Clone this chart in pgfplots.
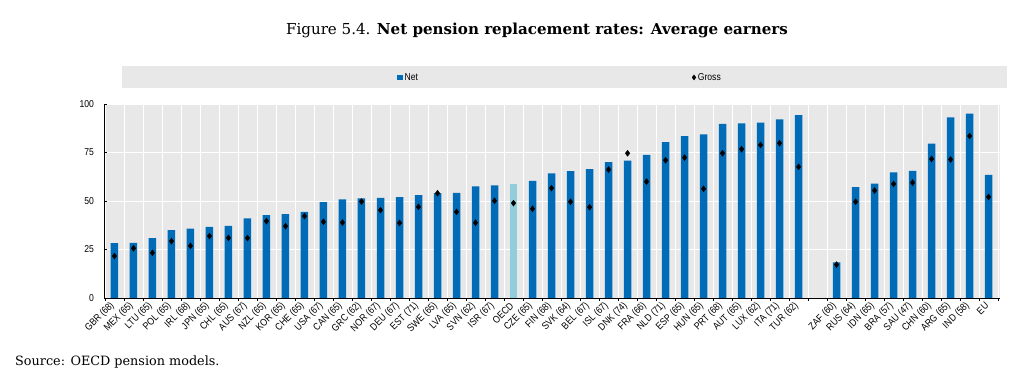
\documentclass[border=0pt]{standalone}
\usepackage{pgfplots}
\pgfplotsset{compat=1.18}
\usepackage{pgfplotstable}
\usepackage{fontspec}
\setmainfont{Liberation Sans}
\newfontfamily\narrowfont[FakeStretch=0.86]{Liberation Sans}
\newfontfamily\titlefont{DejaVu Serif}
\definecolor{oecdblue}{HTML}{006BB6}
\definecolor{oecdlight}{HTML}{92CDDC}
\definecolor{bggray}{HTML}{E8E8E8}

\pgfplotstableread{
x net
0 28.3
1 28.4
2 30.9
3 35.0
4 35.8
5 36.7
6 37.2
7 41.0
8 42.7
9 43.2
10 44.4
11 49.4
12 50.8
13 51.3
14 51.6
15 52.0
16 53.0
17 54.0
18 54.2
19 57.5
20 58.0
22 60.4
23 64.3
24 65.4
25 66.4
26 70.0
27 70.8
28 73.8
29 80.3
30 83.5
31 84.4
32 89.7
33 90.0
34 90.4
35 92.1
36 94.2
38 18.4
39 57.1
40 59.0
41 64.8
42 65.5
43 79.6
44 93.1
45 95.0
46 63.5
}\nettable

\pgfplotstableread{
x net
21 58.7
}\oecdtable

\pgfplotstableread{
x gross
0 21.6
1 25.6
2 23.3
3 29.3
4 26.9
5 31.9
6 31.0
7 30.9
8 39.6
9 37.0
10 42.2
11 39.3
12 38.9
13 49.7
14 45.3
15 38.7
16 47.0
17 54.0
18 44.4
19 38.8
20 50.1
21 48.9
22 46.0
23 56.6
24 49.6
25 46.8
26 66.2
27 74.6
28 60.0
29 71.0
30 72.4
31 56.3
32 74.6
33 76.7
34 78.9
35 79.8
36 67.6
38 17.2
39 49.6
40 55.4
41 58.8
42 59.5
43 71.7
44 71.4
45 83.5
46 52.1
}\grosstable

\begin{document}
\begin{tikzpicture}
\path[use as bounding box] (0pt,0pt) rectangle (1024pt,374pt);
\fill[bggray] (122pt,286pt) rectangle (1007pt,308pt);
\node[font=\titlefont\fontsize{15.1}{18}\selectfont] at (537pt,344pt) {Figure 5.4. \textbf{Net pension replacement rates: Average earners}};
\node[anchor=west, font=\titlefont\fontsize{12.8}{15}\selectfont, inner sep=0pt] at (15pt,12pt) {Source: OECD pension models.};
\begin{axis}[
  at={(104pt,76pt)}, anchor=south west,
  scale only axis, width=896pt, height=194pt,
  xmin=-0.55, xmax=46.6, ymin=0, ymax=100,
  axis background/.style={fill=bggray},
  axis x line*=bottom, axis y line*=left,
  axis line style={-, black, line width=0.8pt},
  ytick={0,25,50,75,100},
  ytick align=inside,
  xtick align=outside,
  ymajorgrids, grid style={white, line width=0.9pt},
  xtick={0,...,36,38,39,...,46},
  xticklabels={GBR (68),MEX (65),LTU (65),POL (65),IRL (68),JPN (65),CHL (65),AUS (67),NZL (65),KOR (65),CHE (65),USA (67),CAN (65),GRC (62),NOR (67),DEU (67),EST (71),SWE (65),LVA (65),SVN (62),ISR (67),OECD,CZE (65),FIN (68),SVK (64),BEL (67),ISL (67),DNK (74),FRA (66),NLD (71),ESP (65),HUN (65),PRT (68),AUT (65),LUX (62),ITA (71),TUR (62),ZAF (60),RUS (64),IDN (65),BRA (57),SAU (47),CHN (60),ARG (65),IND (58),EU},
  minor xtick={-0.5,0.5,...,46.5},
  xminorgrids, minor grid style={white, line width=0.9pt},
  major x tick style={draw=none},
  minor x tick style={black, line width=0.6pt},
  minor tick length=3pt,
  major tick length=3pt,
  y tick style={black, line width=0.6pt},
  xticklabel style={font=\narrowfont\fontsize{10}{11}\selectfont, rotate=45, anchor=east, xshift=0pt, yshift=-1pt},
  yticklabel style={font=\narrowfont\fontsize{10}{11}\selectfont, xshift=-6.5pt},
  /pgf/number format/assume math mode=true,
  legend columns=2,
  legend style={at={(0.3237,1.137)}, anchor=west, draw=none, fill=none,
    font=\narrowfont\fontsize{10}{11}\selectfont,
    /tikz/every even column/.append style={column sep=272pt}},
  legend cell align=left,
  clip=false,
]
\addplot[ybar, bar width=7.5pt, bar shift=0pt, fill=oecdblue, draw=none,
  legend image code/.code={\fill[oecdblue] (0pt,-2.75pt) rectangle (5.5pt,2.75pt);}]
  table[x=x,y=net]{\nettable};
\addlegendentry{Net}
\addplot[ybar, bar width=7.5pt, bar shift=0pt, fill=oecdlight, draw=none, forget plot]
  table[x=x,y=net]{\oecdtable};
\addplot[only marks, mark=diamond*, mark size=3pt, black,
  legend image code/.code={\draw[black] plot[mark=diamond*, mark size=2.5pt] coordinates {(2.5pt,0pt)};}]
  table[x=x,y=gross]{\grosstable};
\addlegendentry{Gross}
\end{axis}
\end{tikzpicture}
\end{document}
